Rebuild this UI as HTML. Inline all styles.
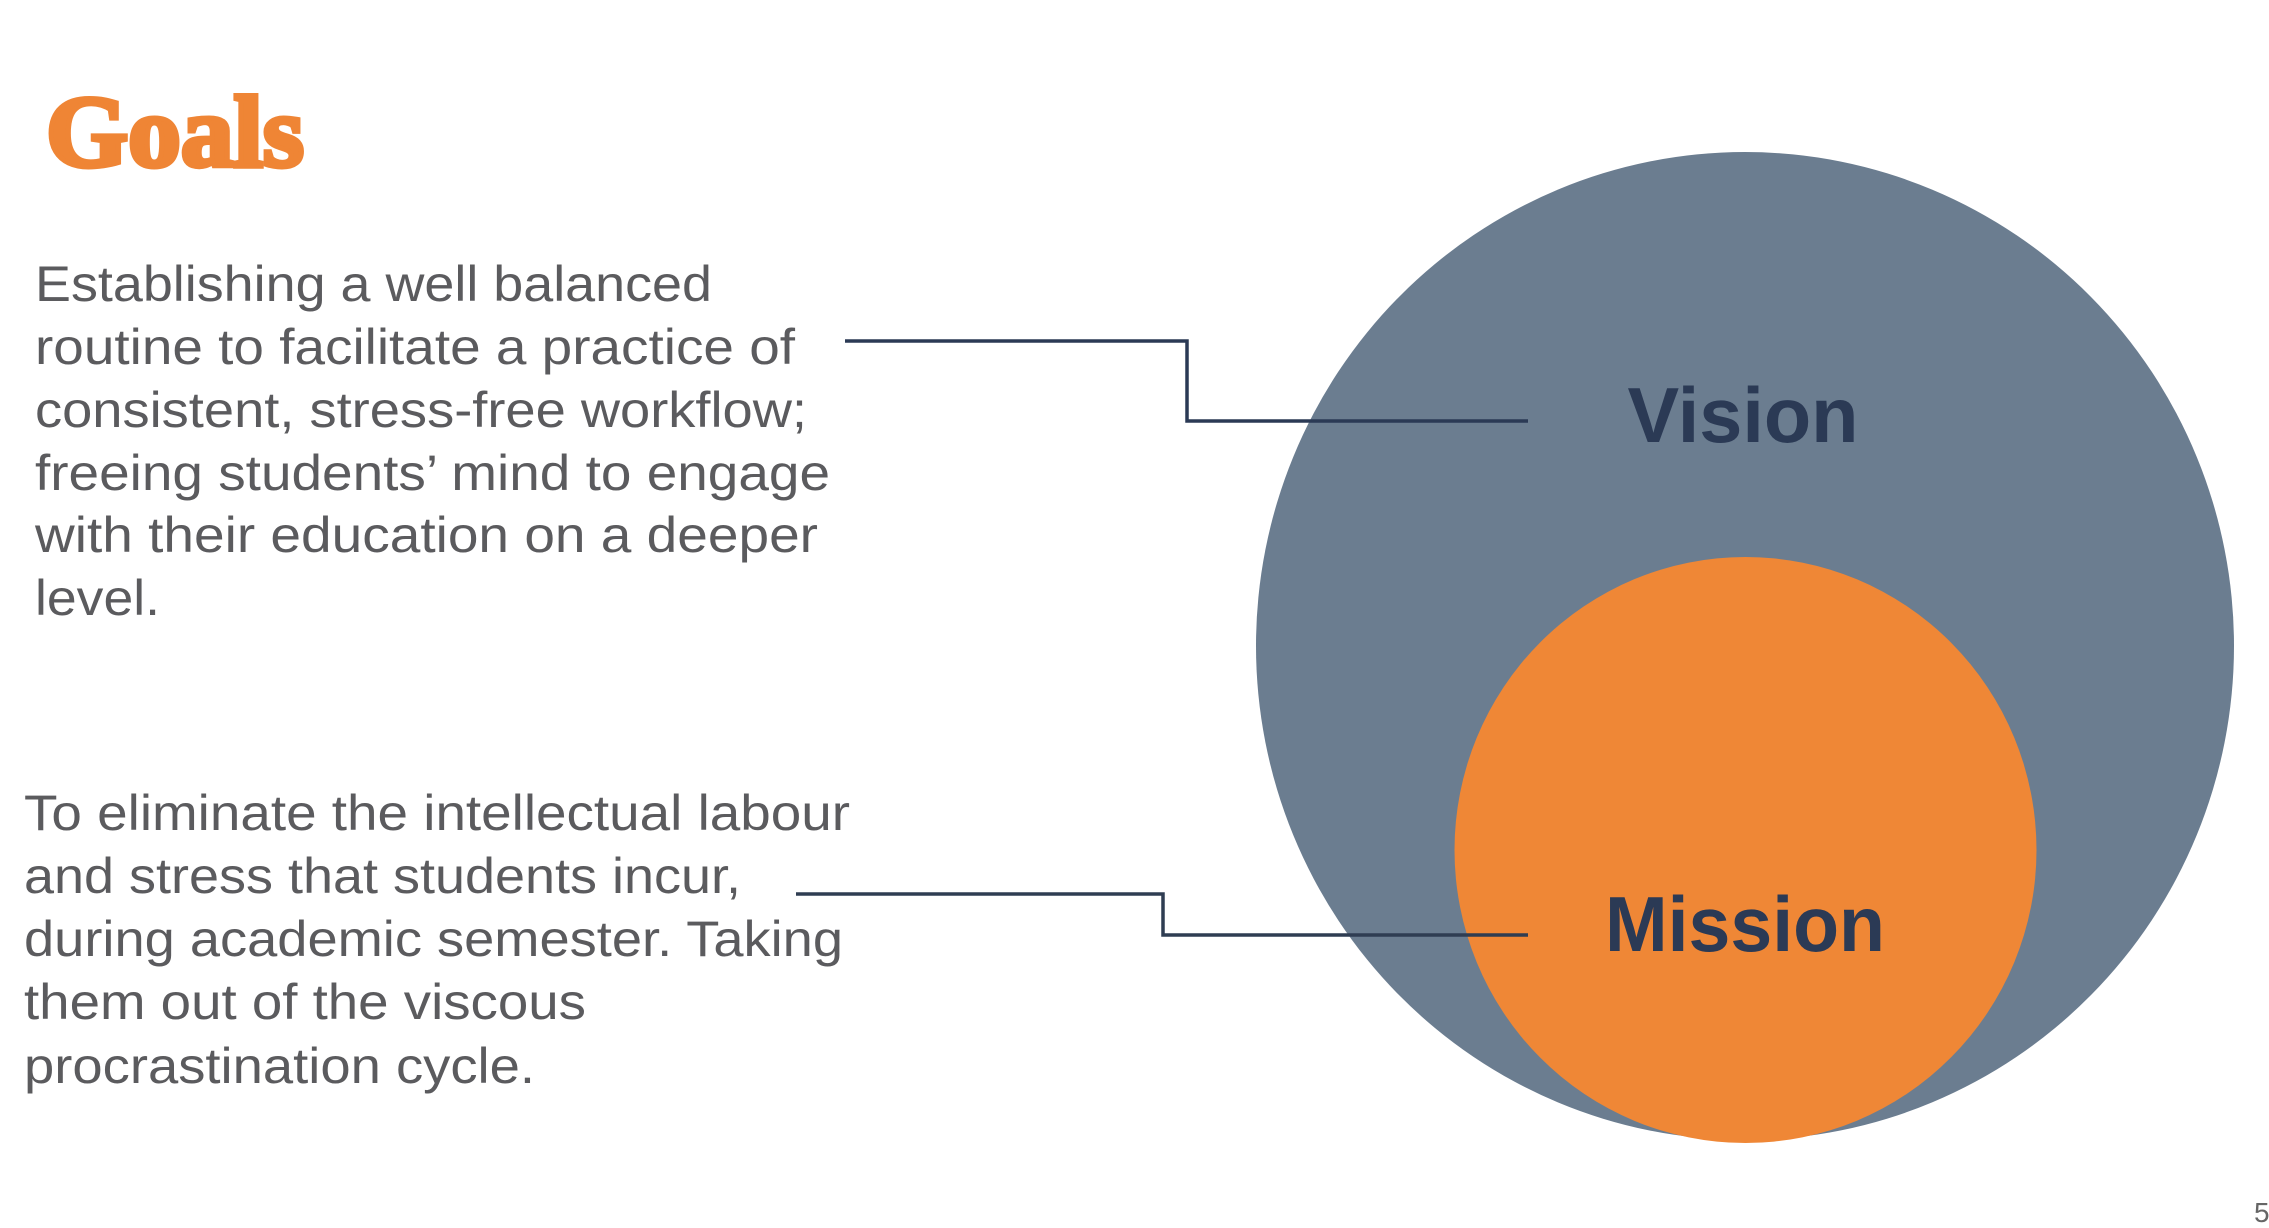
<!DOCTYPE html>
<html><head><meta charset="utf-8"><style>
html,body{margin:0;padding:0;background:#fff;width:2269px;height:1228px;overflow:hidden}
svg{display:block}
</style></head><body>
<svg width="2269" height="1228" viewBox="0 0 2269 1228" xmlns="http://www.w3.org/2000/svg">
<ellipse cx="1745" cy="646" rx="489" ry="494" fill="#6b7d90"/>
<ellipse cx="1745.5" cy="850" rx="291" ry="293" fill="#ef8736"/>
<polyline points="845,341 1187,341 1187,421 1528,421" fill="none" stroke="#2b3a55" stroke-width="3.5"/>
<polyline points="796,894 1163,894 1163,935 1528,935" fill="none" stroke="#2f3d52" stroke-width="3.5"/>
<text x="1743" y="442" text-anchor="middle" font-family="Liberation Sans, sans-serif" font-weight="bold" font-size="78" fill="#2b3a55" textLength="231" lengthAdjust="spacingAndGlyphs">Vision</text>
<text x="1745" y="951" text-anchor="middle" font-family="Liberation Sans, sans-serif" font-weight="bold" font-size="78" fill="#2b3a55" textLength="280" lengthAdjust="spacingAndGlyphs">Mission</text>
<text x="46" y="166" font-family="Liberation Serif, serif" font-weight="bold" font-size="102" fill="#ef8535" textLength="258" lengthAdjust="spacingAndGlyphs" stroke="#ef8535" stroke-width="5">Goals</text>
<g font-family="Liberation Sans, sans-serif" font-size="50" fill="#5b5b5e">
<text x="35" y="301" textLength="677" lengthAdjust="spacingAndGlyphs">Establishing a well balanced</text>
<text x="35" y="364" textLength="760" lengthAdjust="spacingAndGlyphs">routine to facilitate a practice of</text>
<text x="35" y="427" textLength="772" lengthAdjust="spacingAndGlyphs">consistent, stress-free workflow;</text>
<text x="35" y="490" textLength="795" lengthAdjust="spacingAndGlyphs">freeing students’ mind to engage</text>
<text x="35" y="552" textLength="783" lengthAdjust="spacingAndGlyphs">with their education on a deeper</text>
<text x="35" y="615" textLength="125" lengthAdjust="spacingAndGlyphs">level.</text>
<text x="24" y="830" textLength="826" lengthAdjust="spacingAndGlyphs">To eliminate the intellectual labour</text>
<text x="24" y="893" textLength="717" lengthAdjust="spacingAndGlyphs">and stress that students incur,</text>
<text x="24" y="956" textLength="819" lengthAdjust="spacingAndGlyphs">during academic semester. Taking</text>
<text x="24" y="1019" textLength="562" lengthAdjust="spacingAndGlyphs">them out of the viscous</text>
<text x="24" y="1083" textLength="511" lengthAdjust="spacingAndGlyphs">procrastination cycle.</text>
</g>
<text x="2254" y="1222" font-family="Liberation Sans, sans-serif" font-size="28" fill="#666">5</text>
</svg>
</body></html>
